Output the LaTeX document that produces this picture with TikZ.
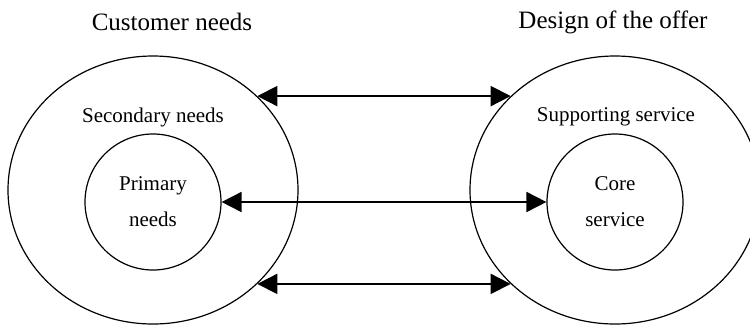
\documentclass[tikz,border=0pt]{standalone}
\usepackage{fontspec}
\setmainfont{Liberation Serif}
\usetikzlibrary{shapes.geometric,arrows.meta}

\begin{document}
\begin{tikzpicture}[x=1pt,y=-1pt]
\tikzset{outer/.style={draw,ellipse,line width=1.2pt,minimum width=290pt,minimum height=268pt,inner sep=0pt},
    inner/.style={draw,circle,line width=1.2pt,minimum size=136pt,inner sep=0pt,align=center,font=\fontsize{21}{36}\selectfont},
    title/.style={font=\fontsize{25}{30}\selectfont},
    label/.style={font=\fontsize{21}{25}\selectfont},
    link/.style={line width=1.8pt,{Triangle[length=20pt,width=20pt]}-{Triangle[length=20pt,width=20pt]}}}
\useasboundingbox (0,0) rectangle (750,325);
\clip (0,0) rectangle (750,325);
\node[outer] (custL) at (153,190) {};
\node[outer] (offerR) at (615,190) {};
\node[inner] (primary) at (153,202) {Primary\\needs};
\node[inner] (core) at (615,202) {Core\\service};
\node[title] (custTitle) at (172,22) {Customer needs};
\node[title] (offerTitle) at (613,22) {Design of the offer};
\node[label] (secondary) at (153,117) {Secondary needs};
\node[label] (supporting) at (616,117) {Supporting service};
\draw[link] (custL.42) -- (offerR.138);
\draw[link] (primary.east) -- (core.west);
\draw[link] (custL.-42) -- (offerR.-138);
\end{tikzpicture}
\end{document}
